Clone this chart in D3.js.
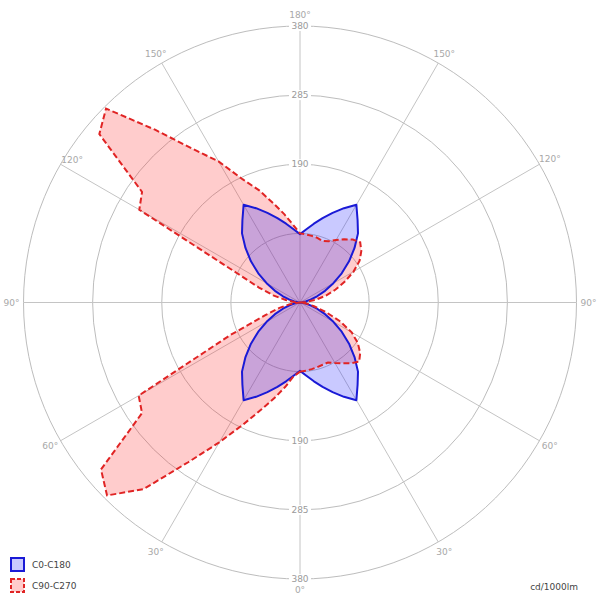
<!DOCTYPE html>
<html>
<head>
<meta charset="utf-8">
<script src="https://cdn.jsdelivr.net/npm/d3@7"></script>
<style>
  body { margin: 0; background: #fff; }
  svg { display: block; }
</style>
</head>
<body>
<div id="chart"></div>
<script>
// gamma angles (0 = down, 180 = up), 5 degree steps
var gamma = d3.range(0, 181, 5);

// C0-C180 plane (cd/1000lm)
var c0 = [94, 101, 110, 120, 131, 143, 155, 138, 124, 106, 88, 70, 53, 38, 25, 15, 8, 3, 0,
          3, 8, 15, 25, 38, 53, 70, 88, 106, 124, 138, 155, 143, 131, 120, 110, 101, 94];
var c180 = [94, 101, 110, 120, 131, 143, 155, 138, 124, 106, 88, 70, 53, 38, 25, 15, 8, 3, 0,
            3, 8, 15, 25, 38, 53, 70, 88, 106, 124, 138, 155, 143, 131, 120, 110, 101, 94];

// C90-C270 plane
var c90 = [95, 94, 93, 92, 91, 91, 96, 102, 109, 115, 108, 97, 82, 60, 37, 20, 10, 4, 0,
           8, 22, 37, 52, 68, 85, 100, 110, 117, 113, 106, 99, 93, 90, 92, 93, 94, 95];
var c270 = [95, 102, 118, 136, 157, 185, 222, 268, 335, 375, 357, 265, 256, 105, 50, 30, 15, 6, 0,
            8, 20, 38, 60, 96, 255, 265, 360, 377, 310, 258, 224, 187, 164, 141, 123, 107, 95];

var ringValues = [95, 190, 285, 380];
var ringLabels = ["190", "285", "380"];
var spokeAngles = d3.range(0, 360, 30);
var angleLabels = ["0°", "30°", "60°", "90°", "120°", "150°", "180°", "150°", "120°", "90°", "60°", "30°"];
var seriesNames = ["C0-C180", "C90-C270"];
var unitLabel = "cd/1000lm";

var width = 598, height = 601;
var cx = 300, cy = 302.5, R = 276.5;
var font = "'DejaVu Sans', Verdana, sans-serif";

var svg = d3.select("#chart").append("svg")
    .attr("width", width)
    .attr("height", height)
    .style("background-color", "#fff");

var r = d3.scaleLinear().domain([0, 380]).range([0, R]);

var g = svg.append("g").attr("transform", "translate(" + cx + "," + cy + ")");

// grid rings
g.selectAll("circle.ring")
    .data(ringValues)
    .enter()
    .append("circle")
    .attr("class", "ring")
    .attr("r", d => r(d))
    .attr("fill", "none")
    .attr("stroke", "#bdbdbd")
    .attr("stroke-width", 1);

// spokes, angle measured from the downward direction
g.selectAll("line.spoke")
    .data(spokeAngles)
    .enter()
    .append("line")
    .attr("class", "spoke")
    .attr("x1", 0).attr("y1", 0)
    .attr("x2", d => r(380) * Math.sin(d * Math.PI / 180))
    .attr("y2", d => r(380) * Math.cos(d * Math.PI / 180))
    .attr("stroke", "#c4c4c4")
    .attr("stroke-width", 1);

// build closed outline: right half gamma 0..180, then left half back to 0
function planePoints(right, left) {
    var pts = [];
    gamma.forEach((gm, i) => pts.push([Math.PI - gm * Math.PI / 180, r(right[i])]));
    for (var i = gamma.length - 1; i >= 0; i--) {
        pts.push([gamma[i] * Math.PI / 180 - Math.PI, r(left[i])]);
    }
    return pts;
}

var radial = d3.lineRadial()
    .angle(d => d[0])
    .radius(d => d[1])
    .curve(d3.curveLinearClosed);

var redPath = radial(planePoints(c90, c270));
var bluePath = radial(planePoints(c0, c180));

g.append("path")
    .attr("d", redPath)
    .attr("fill", "rgba(255,40,40,0.24)")
    .attr("stroke", "none");

g.append("path")
    .attr("d", bluePath)
    .attr("fill", "rgba(40,40,255,0.25)")
    .attr("stroke", "#1a1ad6")
    .attr("stroke-width", 2)
    .attr("stroke-linejoin", "round");

g.append("path")
    .attr("d", redPath)
    .attr("fill", "none")
    .attr("stroke", "#e02424")
    .attr("stroke-width", 2)
    .attr("stroke-dasharray", "6,3");

// ring value labels on the vertical axis, top and bottom
[-1, 1].forEach(function (dir) {
    var lab = g.selectAll("g.rlab" + (dir + 1))
        .data(ringLabels)
        .enter()
        .append("g")
        .attr("transform", d => "translate(0," + dir * r(+d) + ")");
    lab.append("rect")
        .attr("x", -11).attr("y", -5)
        .attr("width", 22).attr("height", 10)
        .attr("fill", "#fff");
    lab.append("text")
        .attr("text-anchor", "middle")
        .attr("dy", "0.35em")
        .attr("font-family", font)
        .attr("font-size", "9px")
        .attr("fill", "#9a9a9a")
        .text(d => d);
});

// angle labels around the outside
var nudge = { 8: [22, 1] }; // left 120° label sits a bit inside in the original
g.selectAll("text.alab")
    .data(spokeAngles)
    .enter()
    .append("text")
    .attr("class", "alab")
    .attr("x", (d, i) => (R + 12) * Math.sin(d * Math.PI / 180) + (nudge[i] ? nudge[i][0] : 0))
    .attr("y", (d, i) => (R + 11) * Math.cos(d * Math.PI / 180) + (nudge[i] ? nudge[i][1] : 0))
    .attr("text-anchor", "middle")
    .attr("dy", "0.35em")
    .attr("font-family", font)
    .attr("font-size", "9px")
    .attr("fill", "#a8a8a8")
    .text((d, i) => angleLabels[i]);

// legend
var legend = svg.append("g").attr("transform", "translate(11,558)");
var legendStyle = [
    { fill: "rgba(40,40,255,0.25)", stroke: "#1a1ad6", dash: null },
    { fill: "rgba(255,40,40,0.24)", stroke: "#e02424", dash: "4,2" }
];
seriesNames.forEach(function (name, i) {
    var row = legend.append("g").attr("transform", "translate(0," + i * 21 + ")");
    row.append("rect")
        .attr("x", 0).attr("y", 0)
        .attr("width", 13).attr("height", 13)
        .attr("fill", legendStyle[i].fill)
        .attr("stroke", legendStyle[i].stroke)
        .attr("stroke-width", 2)
        .attr("stroke-dasharray", legendStyle[i].dash);
    row.append("text")
        .attr("x", 21).attr("y", 7)
        .attr("dy", "0.35em")
        .attr("font-family", font)
        .attr("font-size", "9px")
        .attr("fill", "#444")
        .text(name);
});

svg.append("text")
    .attr("x", 578).attr("y", 587)
    .attr("text-anchor", "end")
    .attr("dy", "0.35em")
    .attr("font-family", font)
    .attr("font-size", "9px")
    .attr("fill", "#444")
    .text(unitLabel);
</script>
</body>
</html>
